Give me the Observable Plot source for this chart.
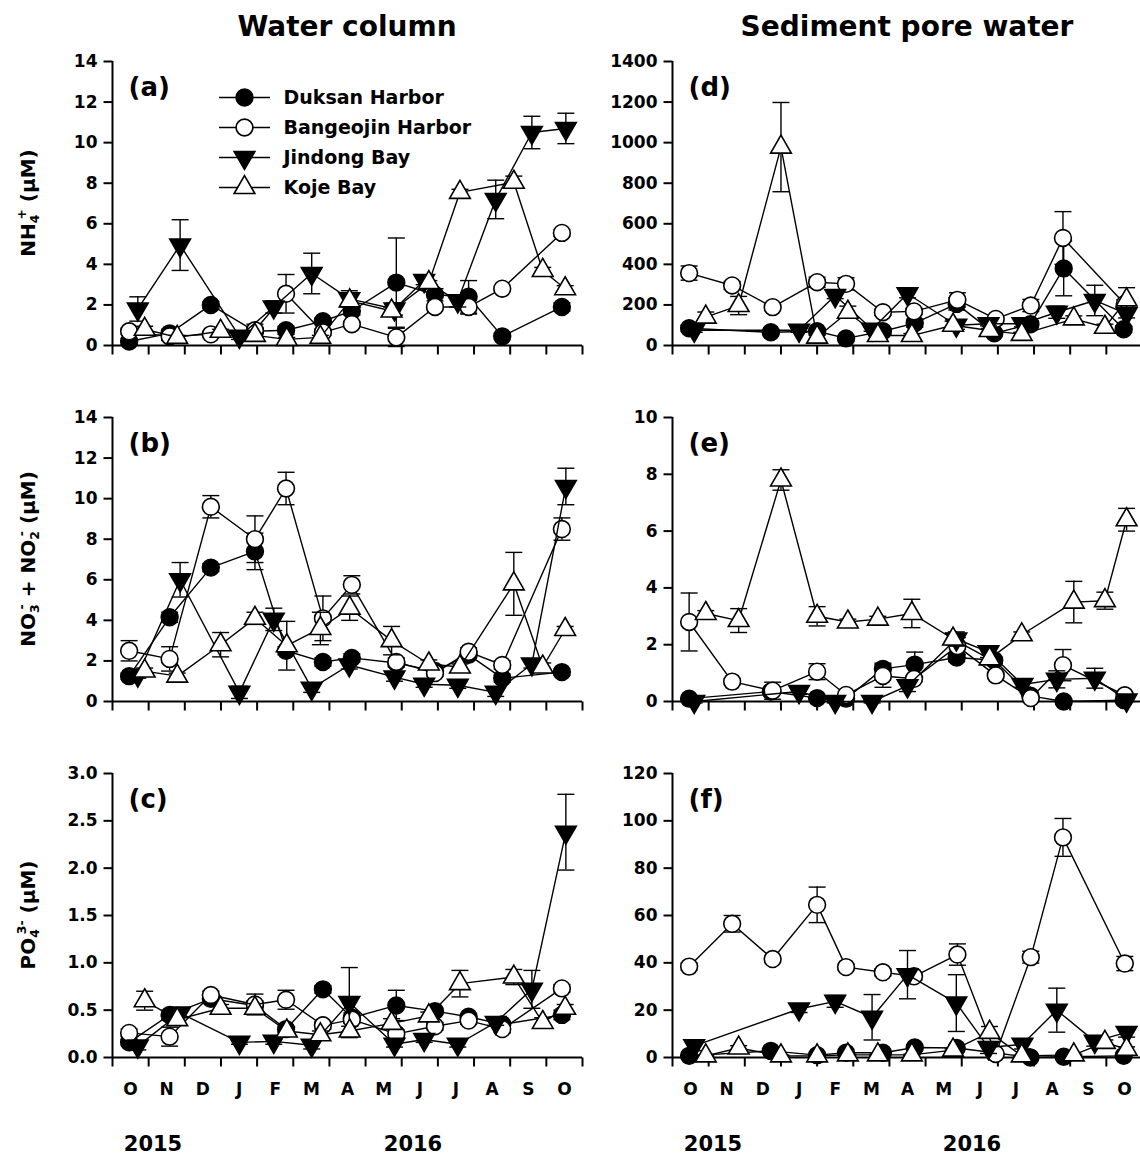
<!DOCTYPE html>
<html><head><meta charset="utf-8">
<script src="https://cdn.jsdelivr.net/npm/d3@7"></script>
<script src="https://cdn.jsdelivr.net/npm/@observablehq/plot@0.6"></script>
<style>
html,body{margin:0;padding:0;background:#fff;}
#root{position:relative;width:1140px;height:1157px;overflow:hidden;font-family:"DejaVu Sans",sans-serif;font-weight:bold;color:#000;}
.panel{position:absolute;}
.title{position:absolute;top:12px;font-size:28px;line-height:30px;transform:translateX(-50%);white-space:nowrap;}
.year{position:absolute;top:1132px;font-size:21px;line-height:24px;transform:translateX(-50%);}
.ytitle{position:absolute;font-size:20px;white-space:nowrap;transform:translate(-50%,-50%) rotate(-90deg);}
.ytitle sub{font-size:0.62em;vertical-align:-0.35em;}
.ytitle sup{font-size:0.62em;vertical-align:0.75em;}
</style></head>
<body><div id="root"></div>
<script>
// ---------- categories / labels ----------
const sites = ["Duksan Harbor", "Bangeojin Harbor", "Jindong Bay", "Koje Bay"];
const monthLabels = ["O","N","D","J","F","M","A","M","J","J","A","S","O"];
const yearLabels = ["2015", "2016"];

// ---------- sampling times (months since 1 Oct 2015) ----------
const tWaterDB = [0.46, 1.58, 2.72, 3.94, 4.80, 5.82, 6.62, 7.85, 8.92, 9.85, 10.78, 12.43];
const tWaterJ  = [0.70, 1.87, 3.51, 4.46, 5.51, 6.55, 7.80, 8.62, 9.55, 10.60, 11.60, 12.54];
const tWaterK  = [0.89, 1.79, 2.99, 3.94, 4.82, 5.75, 6.56, 7.72, 8.75, 9.61, 11.10, 11.90, 12.52];
const tSedD = [0.46, 2.72, 4.00, 4.80, 5.82, 6.70, 7.86, 8.90, 9.90, 10.82, 12.48];
const tSedB = [0.46, 1.65, 2.77, 4.00, 4.80, 5.82, 6.68, 7.88, 8.94, 9.91, 10.80, 12.51];
const tSedJ = [0.60, 3.50, 4.50, 5.52, 6.50, 7.85, 8.74, 9.68, 10.63, 11.68, 12.56];
const tSedK = [0.92, 1.83, 3.00, 4.00, 4.85, 5.68, 6.62, 7.76, 8.77, 9.66, 11.10, 11.96, 12.56];

// ---------- (a) NH4+ water column ----------
const nh4WDuksan = [0.2, 0.6, 2.0, 0.7, 0.75, 1.2, 1.7, 3.1, 2.5, 2.4, 0.45, 1.9];
const nh4WDuksanSE = [0.15, 0.2, 0.15, 0.1, 0.2, 0.15, 0.2, 2.2, 0.3, 0.8, 0.1, 0.2];
const nh4WBangeojin = [0.7, 0.45, 0.55, 0.75, 2.55, 0.65, 1.05, 0.4, 1.9, 1.9, 2.8, 5.55];
const nh4WBangeojinSE = [0.15, 0.2, 0.1, 0.3, 0.95, 0.15, 0.1, 0.45, 0.1, 0.35, 0.1, 0.15];
const nh4WJindong = [1.8, 4.95, 0.45, 1.9, 3.55, 2.3, 1.8, 3.2, 2.2, 7.2, 10.5, 10.7];
const nh4WJindongSE = [0.6, 1.25, 0.15, 0.3, 1.0, 0.4, 0.3, 0.2, 0.3, 0.95, 0.8, 0.75];
const nh4WKoje = [0.8, 0.4, 0.7, 0.5, 0.3, 0.4, 2.2, 1.7, 3.1, 7.55, 8.05, 3.7, 2.8];
const nh4WKojeSE = [0.15, 0.1, 0.1, 0.1, 0.1, 0.1, 0.3, 0.2, 0.1, 0.15, 0.3, 0.15, 0.15];

// ---------- (b) NO3- + NO2- water column ----------
const no3WDuksan = [1.25, 4.15, 6.6, 7.4, 2.5, 1.95, 2.15, 1.9, 1.5, 2.3, 1.15, 1.45];
const no3WDuksanSE = [0.15, 0.25, 0.2, 0.9, 0.2, 0.2, 0.2, 0.2, 0.15, 0.15, 0.2, 0.15];
const no3WBangeojin = [2.5, 2.1, 9.6, 8.0, 10.5, 4.1, 5.75, 1.95, 1.4, 2.45, 1.8, 8.5];
const no3WBangeojinSE = [0.5, 0.6, 0.55, 1.15, 0.8, 1.1, 0.45, 0.2, 0.15, 0.2, 0.2, 0.55];
const no3WJindong = [1.3, 6.0, 0.45, 4.05, 0.65, 1.8, 1.2, 0.85, 0.8, 0.45, 1.85, 10.6];
const no3WJindongSE = [0.15, 0.85, 0.3, 0.55, 0.2, 0.2, 0.2, 0.15, 0.15, 0.2, 0.2, 0.9];
const no3WKoje = [1.5, 1.25, 2.8, 4.1, 2.75, 3.6, 4.6, 3.0, 1.85, 1.7, 5.8, 1.7, 3.55];
const no3WKojeSE = [0.15, 0.15, 0.6, 0.3, 1.2, 0.8, 0.6, 0.7, 0.2, 0.15, 1.55, 0.2, 0.15];

// ---------- (c) PO4 3- water column ----------
const po4WDuksan = [0.16, 0.45, 0.62, 0.55, 0.3, 0.72, 0.42, 0.55, 0.49, 0.43, 0.35, 0.45];
const po4WDuksanSE = [0.03, 0.05, 0.05, 0.05, 0.03, 0.04, 0.05, 0.16, 0.03, 0.03, 0.03, 0.05];
const po4WBangeojin = [0.26, 0.22, 0.66, 0.56, 0.61, 0.34, 0.4, 0.25, 0.33, 0.39, 0.3, 0.73];
const po4WBangeojinSE = [0.04, 0.1, 0.04, 0.11, 0.1, 0.04, 0.04, 0.04, 0.04, 0.04, 0.04, 0.04];
const po4WJindong = [0.12, 0.47, 0.16, 0.17, 0.13, 0.58, 0.14, 0.19, 0.14, 0.37, 0.72, 2.38];
const po4WJindongSE = [0.04, 0.05, 0.02, 0.03, 0.04, 0.37, 0.03, 0.03, 0.03, 0.03, 0.2, 0.4];
const po4WKoje = [0.6, 0.4, 0.52, 0.52, 0.28, 0.24, 0.28, 0.36, 0.44, 0.78, 0.85, 0.37, 0.52];
const po4WKojeSE = [0.1, 0.05, 0.04, 0.05, 0.04, 0.04, 0.05, 0.05, 0.04, 0.14, 0.08, 0.05, 0.04];

// ---------- (d) NH4+ sediment pore water ----------
const nh4SDuksan = [85, 65, 70, 35, 70, 110, 205, 60, 105, 380, 80];
const nh4SDuksanSE = [15, 10, 10, 10, 15, 20, 30, 10, 15, 135, 15];
const nh4SBangeojin = [357, 296, 189, 312, 304, 164, 168, 225, 131, 197, 530, 205];
const nh4SBangeojinSE = [35, 20, 10, 25, 30, 15, 15, 35, 10, 30, 130, 20];
const nh4SJindong = [75, 75, 246, 80, 255, 100, 107, 107, 164, 222, 156];
const nh4SJindongSE = [10, 10, 15, 10, 20, 20, 10, 15, 30, 75, 20];
const nh4SKoje = [140, 197, 978, 41, 164, 49, 49, 100, 74, 55, 131, 90, 225];
const nh4SKojeSE = [25, 45, 220, 10, 30, 10, 10, 20, 10, 10, 15, 15, 60];

// ---------- (e) NO3- + NO2- sediment pore water ----------
const no3SDuksan = [0.1, 0.35, 0.12, 0.1, 1.15, 1.3, 1.55, 1.45, 0.2, 0.0, 0.05];
const no3SDuksanSE = [0.05, 0.05, 0.05, 0.05, 0.2, 0.44, 0.15, 0.1, 0.05, 0.05, 0.05];
const no3SBangeojin = [2.8, 0.7, 0.38, 1.05, 0.23, 0.9, 0.8, 1.95, 0.92, 0.12, 1.28, 0.22];
const no3SBangeojinSE = [1.02, 0.1, 0.3, 0.28, 0.05, 0.4, 0.1, 0.3, 0.1, 0.05, 0.55, 0.05];
const no3SJindong = [0.0, 0.35, 0.0, 0.0, 0.55, 2.2, 1.75, 0.6, 0.78, 0.82, 0.05];
const no3SJindongSE = [0.05, 0.1, 0.05, 0.05, 0.2, 0.25, 0.2, 0.1, 0.3, 0.35, 0.05];
const no3SKoje = [3.1, 2.85, 7.8, 3.0, 2.8, 2.9, 3.1, 2.2, 1.5, 2.35, 3.5, 3.55, 6.4];
const no3SKojeSE = [0.1, 0.42, 0.36, 0.34, 0.1, 0.1, 0.5, 0.2, 0.15, 0.1, 0.73, 0.3, 0.4];

// ---------- (f) PO4 3- sediment pore water ----------
const po4SDuksan = [0.7, 2.8, 1.0, 2.0, 2.0, 4.2, 4.0, 2.0, 0.0, 0.3, 0.7];
const po4SDuksanSE = [0.5, 0.8, 0.5, 0.5, 0.5, 1.0, 0.8, 0.5, 0.3, 0.3, 0.5];
const po4SBangeojin = [38.4, 56.5, 41.6, 64.5, 38.2, 36.0, 34.3, 43.5, 1.5, 42.4, 93.0, 39.7];
const po4SBangeojinSE = [1.5, 3.5, 1.2, 7.5, 1.2, 1.5, 1.5, 4.5, 0.5, 2.5, 8.0, 3.0];
const po4SJindong = [4.9, 20.5, 23.7, 17.0, 35.0, 23.0, 4.2, 5.6, 20.0, 6.8, 10.6];
const po4SJindongSE = [2.0, 1.5, 2.5, 9.6, 10.2, 12.0, 2.5, 2.0, 9.3, 2.0, 2.0];
const po4SKoje = [0.7, 4.0, 0.7, 0.7, 1.1, 1.1, 1.1, 3.1, 10.6, 0.7, 1.1, 6.4, 3.5];
const po4SKojeSE = [0.3, 1.0, 0.3, 0.3, 0.3, 0.3, 0.3, 0.5, 2.5, 0.3, 0.3, 1.0, 1.0];

// ---------- drawing ----------
const hline = w => ({draw(ctx) { ctx.moveTo(-w, 0); ctx.lineTo(w, 0); }});
const vtickDown = len => ({draw(ctx) { ctx.moveTo(0, 0); ctx.lineTo(0, len); }});
const htickLeft = len => ({draw(ctx) { ctx.moveTo(0, 0); ctx.lineTo(-len, 0); }});
const triDown = {draw(ctx, size) {
  const y = -Math.sqrt(size / (Math.sqrt(3) * 3));
  ctx.moveTo(0, -y * 2); ctx.lineTo(-Math.sqrt(3) * y, y); ctx.lineTo(Math.sqrt(3) * y, y); ctx.closePath();
}};
const siteStyle = {
  "Duksan Harbor":    {symbol: "circle",   fill: "black", r: 8.4},
  "Bangeojin Harbor": {symbol: "circle",   fill: "white", r: 8.4},
  "Jindong Bay":      {symbol: triDown,    fill: "black", r: 7.7},
  "Koje Bay":         {symbol: "triangle", fill: "white", r: 7.7}
};

function series(site, t, v, e) { return {site, rows: t.map((x, i) => ({t: x, v: v[i], e: e[i]}))}; }

function panel(data, {yMax, yStep, fmt, letter, months, legend}) {
  const marks = [];
  const yTicks = d3.range(0, yMax + yStep / 2, yStep);
  // axes
  marks.push(Plot.ruleX([0], {stroke: "black", strokeWidth: 2}));
  marks.push(Plot.ruleY([0], {stroke: "black", strokeWidth: 2}));
  marks.push(Plot.dot(yTicks, {y: d => d, frameAnchor: "left", symbol: htickLeft(9), r: 3,
    fill: "none", stroke: "black", strokeWidth: 2}));
  marks.push(Plot.text(yTicks, {y: d => d, text: d => fmt(d), frameAnchor: "left", dx: -15,
    textAnchor: "end", fontSize: 17, fontWeight: "bold"}));
  marks.push(Plot.dot(d3.range(0, 14), {x: d => d, frameAnchor: "bottom", symbol: vtickDown(9), r: 3,
    fill: "none", stroke: "black", strokeWidth: 2}));
  if (months) marks.push(Plot.text(monthLabels, {x: (d, i) => i + 0.5, text: d => d,
    frameAnchor: "bottom", dy: 37, fontSize: 17, fontWeight: "bold"}));
  marks.push(Plot.text([letter], {frameAnchor: "top-left", dx: 16, dy: 26, fontSize: 26,
    fontWeight: "bold", textAnchor: "start", lineAnchor: "middle"}));
  for (const s of data) {
    const st = siteStyle[s.site];
    marks.push(Plot.line(s.rows, {x: "t", y: "v", stroke: "black", strokeWidth: 1.4}));
    marks.push(Plot.ruleX(s.rows, {x: "t", y1: d => d.v - d.e, y2: d => d.v + d.e, stroke: "black", strokeWidth: 1.4}));
    marks.push(Plot.dot(s.rows, {x: "t", y: d => d.v + d.e, symbol: hline(8.5), r: 3, fill: "none", stroke: "black", strokeWidth: 1.4}));
    marks.push(Plot.dot(s.rows, {x: "t", y: d => d.v - d.e, symbol: hline(8.5), r: 3, fill: "none", stroke: "black", strokeWidth: 1.4}));
    marks.push(Plot.dot(s.rows, {x: "t", y: "v", symbol: st.symbol, r: st.r, fill: st.fill, stroke: "black", strokeWidth: 1.6}));
  }
  if (legend) {
    sites.forEach((site, i) => {
      const st = siteStyle[site];
      const dy = 36 + 30 * i;
      marks.push(Plot.dot([site], {frameAnchor: "top-left", dx: 132, dy, symbol: hline(25.5), r: 3, fill: "none", stroke: "black", strokeWidth: 1.4}));
      marks.push(Plot.dot([site], {frameAnchor: "top-left", dx: 132, dy, symbol: st.symbol, r: st.r, fill: st.fill, stroke: "black", strokeWidth: 1.6}));
      marks.push(Plot.text([site], {frameAnchor: "top-left", dx: 171, dy, text: d => d, textAnchor: "start",
        lineAnchor: "middle", fontSize: 19, fontWeight: "bold"}));
    });
  }
  return Plot.plot({
    width: 600, height: 355, marginTop: 21, marginRight: 18, marginBottom: 50, marginLeft: 112,
    x: {domain: [0, 13], axis: null},
    y: {domain: [0, yMax], axis: null},
    style: {fontFamily: "DejaVu Sans", fontWeight: "bold", fontSize: "17px", color: "black",
      background: "transparent", overflow: "visible"},
    marks
  });
}

const root = document.getElementById("root");
function place(el, left, top) { el.classList.add("panel"); el.style.left = left + "px"; el.style.top = top + "px"; root.appendChild(el); }
const fmtInt = d3.format("d"), fmt1 = d3.format(".1f");

const panels = [
  {col: 0, row: 0, letter: "(a)", yMax: 14, yStep: 2, fmt: fmtInt, legend: true, data: [
    series(sites[0], tWaterDB, nh4WDuksan, nh4WDuksanSE), series(sites[1], tWaterDB, nh4WBangeojin, nh4WBangeojinSE),
    series(sites[2], tWaterJ, nh4WJindong, nh4WJindongSE), series(sites[3], tWaterK, nh4WKoje, nh4WKojeSE)]},
  {col: 0, row: 1, letter: "(b)", yMax: 14, yStep: 2, fmt: fmtInt, data: [
    series(sites[0], tWaterDB, no3WDuksan, no3WDuksanSE), series(sites[1], tWaterDB, no3WBangeojin, no3WBangeojinSE),
    series(sites[2], tWaterJ, no3WJindong, no3WJindongSE), series(sites[3], tWaterK, no3WKoje, no3WKojeSE)]},
  {col: 0, row: 2, letter: "(c)", yMax: 3, yStep: 0.5, fmt: fmt1, months: true, data: [
    series(sites[0], tWaterDB, po4WDuksan, po4WDuksanSE), series(sites[1], tWaterDB, po4WBangeojin, po4WBangeojinSE),
    series(sites[2], tWaterJ, po4WJindong, po4WJindongSE), series(sites[3], tWaterK, po4WKoje, po4WKojeSE)]},
  {col: 1, row: 0, letter: "(d)", yMax: 1400, yStep: 200, fmt: fmtInt, data: [
    series(sites[0], tSedD, nh4SDuksan, nh4SDuksanSE), series(sites[1], tSedB, nh4SBangeojin, nh4SBangeojinSE),
    series(sites[2], tSedJ, nh4SJindong, nh4SJindongSE), series(sites[3], tSedK, nh4SKoje, nh4SKojeSE)]},
  {col: 1, row: 1, letter: "(e)", yMax: 10, yStep: 2, fmt: fmtInt, data: [
    series(sites[0], tSedD, no3SDuksan, no3SDuksanSE), series(sites[1], tSedB, no3SBangeojin, no3SBangeojinSE),
    series(sites[2], tSedJ, no3SJindong, no3SJindongSE), series(sites[3], tSedK, no3SKoje, no3SKojeSE)]},
  {col: 1, row: 2, letter: "(f)", yMax: 120, yStep: 20, fmt: fmtInt, months: true, data: [
    series(sites[0], tSedD, po4SDuksan, po4SDuksanSE), series(sites[1], tSedB, po4SBangeojin, po4SBangeojinSE),
    series(sites[2], tSedJ, po4SJindong, po4SJindongSE), series(sites[3], tSedK, po4SKoje, po4SKojeSE)]}
];
for (const p of panels) place(panel(p.data, p), p.col ? 560 : 0, 40 + 356 * p.row);

// titles
function addDiv(cls, html, left, top) {
  const d = document.createElement("div"); d.className = cls; d.innerHTML = html;
  d.style.left = left + "px"; if (top !== undefined) d.style.top = top + "px"; root.appendChild(d);
}
addDiv("title", "Water column", 347);
addDiv("title", "Sediment pore water", 907);
addDiv("year", yearLabels[0], 153); addDiv("year", yearLabels[1], 413);
addDiv("year", yearLabels[0], 713); addDiv("year", yearLabels[1], 972);
addDiv("ytitle", "NH<sub>4</sub><sup style=\"margin-left:-0.4em\">+</sup> (μM)", 28, 203);
addDiv("ytitle", "NO<sub>3</sub><sup style=\"margin-left:-0.4em\">-</sup> + NO<sub>2</sub><sup style=\"margin-left:-0.4em\">-</sup> (μM)", 28, 559);
addDiv("ytitle", "PO<sub>4</sub><sup style=\"margin-left:-0.4em\">3-</sup> (μM)", 28, 915);
</script>
</body></html>
